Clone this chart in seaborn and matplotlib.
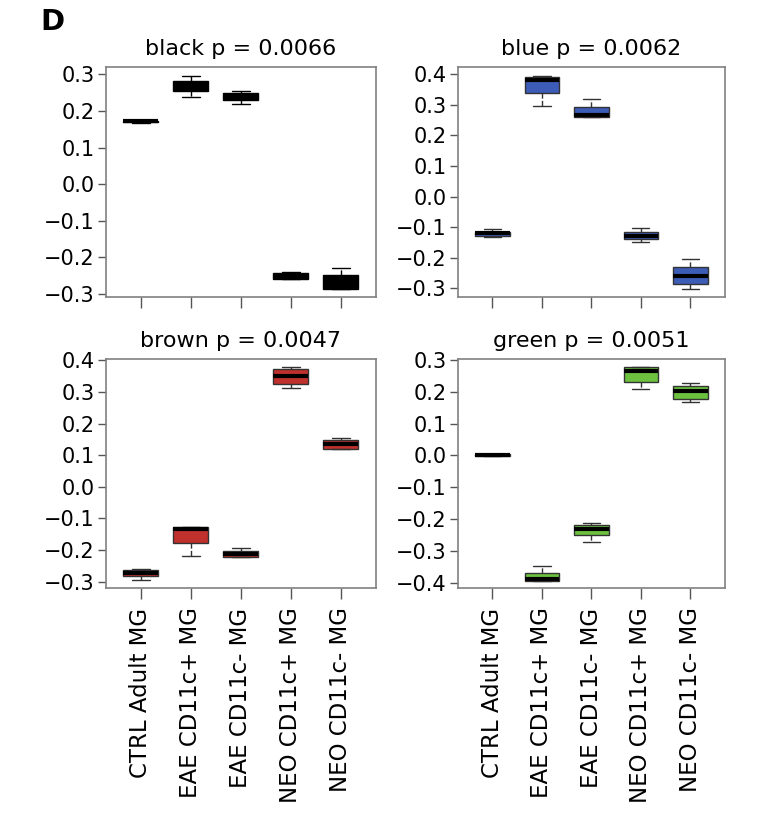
import numpy as np
import pandas as pd
import matplotlib
matplotlib.use("Agg")
import matplotlib.pyplot as plt
import seaborn as sns

groups = ["CTRL Adult MG", "EAE CD11c+ MG", "EAE CD11c- MG", "NEO CD11c+ MG", "NEO CD11c- MG"]

# per group: [low whisker, q1, median, q3, high whisker]
black_vals = [
    [0.167, 0.170, 0.172, 0.174, 0.176],
    [0.238, 0.254, 0.265, 0.282, 0.295],
    [0.219, 0.229, 0.238, 0.248, 0.256],
    [-0.260, -0.258, -0.250, -0.242, -0.240],
    [-0.286, -0.285, -0.275, -0.247, -0.229],
]
blue_vals = [
    [-0.133, -0.129, -0.121, -0.115, -0.106],
    [0.295, 0.339, 0.383, 0.391, 0.395],
    [0.261, 0.262, 0.268, 0.292, 0.319],
    [-0.149, -0.139, -0.128, -0.115, -0.104],
    [-0.303, -0.286, -0.260, -0.230, -0.205],
]
brown_vals = [
    [-0.294, -0.284, -0.272, -0.262, -0.261],
    [-0.218, -0.178, -0.135, -0.129, -0.128],
    [-0.224, -0.222, -0.214, -0.205, -0.195],
    [0.311, 0.325, 0.352, 0.372, 0.380],
    [0.120, 0.121, 0.134, 0.148, 0.153],
]
green_vals = [
    [-0.002, -0.001, 0.002, 0.005, 0.006],
    [-0.395, -0.394, -0.387, -0.368, -0.347],
    [-0.271, -0.249, -0.232, -0.219, -0.212],
    [0.208, 0.229, 0.265, 0.276, 0.277],
    [0.167, 0.178, 0.202, 0.218, 0.226],
]

titles = ["black p = 0.0066", "blue p = 0.0062", "brown p = 0.0047", "green p = 0.0051"]
fills = ["#000000", "#3d5cb8", "#c0302d", "#6cc23f"]
yticks = [
    [-0.3, -0.2, -0.1, 0.0, 0.1, 0.2, 0.3],
    [-0.3, -0.2, -0.1, 0.0, 0.1, 0.2, 0.3, 0.4],
    [-0.3, -0.2, -0.1, 0.0, 0.1, 0.2, 0.3, 0.4],
    [-0.4, -0.3, -0.2, -0.1, 0.0, 0.1, 0.2, 0.3],
]
ylims = [(-0.308, 0.320), (-0.329, 0.424), (-0.321, 0.404), (-0.416, 0.302)]

sns.set_theme(style="white")
plt.rcParams["font.family"] = ["DejaVu Sans"]
plt.rcParams["text.color"] = "black"
plt.rcParams["xtick.labelcolor"] = "black"
plt.rcParams["ytick.labelcolor"] = "black"

fig = plt.figure(figsize=(7.72, 8.18), dpi=100)
rects = [
    [0.137, 0.637, 0.350, 0.281],
    [0.593, 0.637, 0.346, 0.281],
    [0.137, 0.281, 0.350, 0.280],
    [0.593, 0.281, 0.346, 0.280],
]

for i, vals in enumerate([black_vals, blue_vals, brown_vals, green_vals]):
    df = pd.DataFrame({
        "group": np.repeat(groups, 5),
        "value": np.concatenate(vals),
    })
    ax = fig.add_axes(rects[i])
    edge = "#000000" if i == 0 else "#333333"
    sns.boxplot(data=df, x="group", y="value", order=groups, ax=ax,
                color=fills[i], saturation=1, width=0.7, whis=(0, 100),
                linecolor=edge, linewidth=1,
                whiskerprops={"linestyle": "--"},
                medianprops={"color": "black", "linewidth": 3})
    ax.set_xlim(-0.7, 4.7)
    ax.set_ylim(*ylims[i])
    ax.set_yticks(yticks[i])
    ax.set_yticklabels([f"{t:.1f}".replace("-", "\u2212") for t in yticks[i]])
    ax.set_xlabel("")
    ax.set_ylabel("")
    ax.set_title(titles[i], fontsize=16, pad=9, color="black")
    for s in ax.spines.values():
        s.set_color("#808080")
        s.set_linewidth(1.2)
    ax.tick_params(axis="y", left=True, length=6, width=1, color="#555555",
                   labelsize=15, pad=2, labelcolor="black")
    ax.tick_params(axis="x", bottom=True, length=8, width=1, color="#555555",
                   pad=6, labelcolor="black")
    if i < 2:
        ax.set_xticklabels([])
    else:
        ax.set_xticklabels(groups, rotation=90, fontsize=16.5)

fig.text(0.052, 0.99, "D", fontsize=21, fontweight="bold", va="top", color="black")

fig.savefig("out.png", dpi=100)
